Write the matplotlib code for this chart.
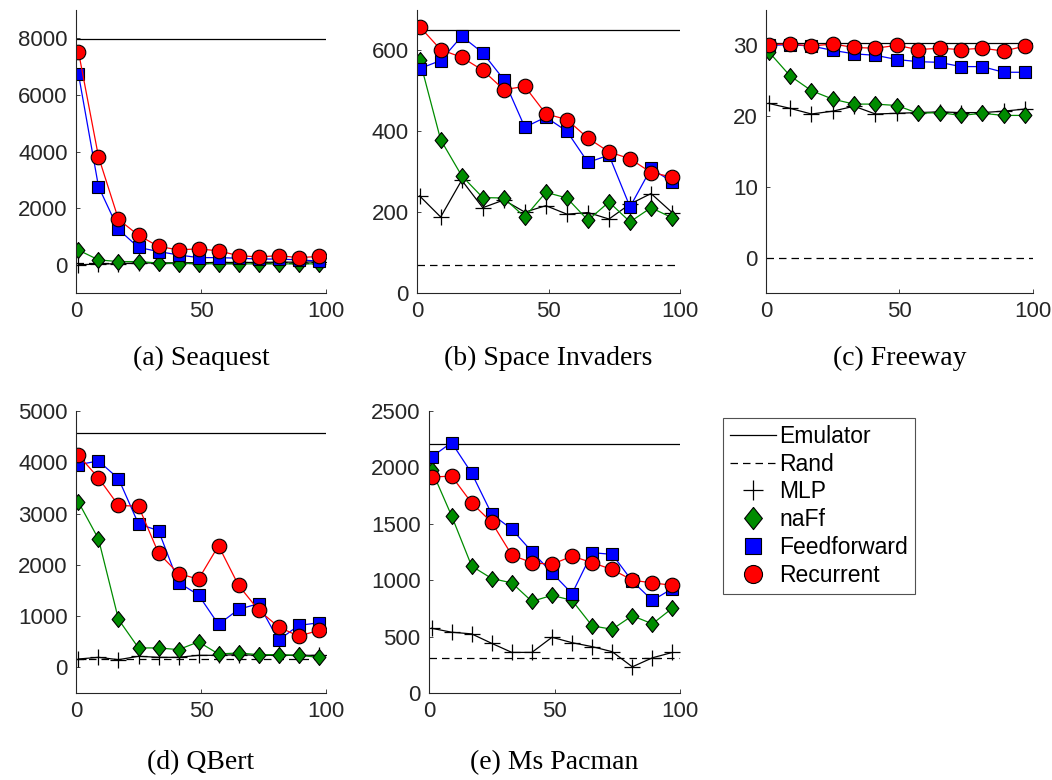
import matplotlib.pyplot as plt
from matplotlib.lines import Line2D

# x positions of the evaluation points (shared by all games)
steps = [1, 9, 17, 25, 33, 41, 49, 57, 65, 73, 81, 89, 97]

series_names = ["MLP", "naFf", "Feedforward", "Recurrent"]

seaquest_emulator = 7990
seaquest_rand = 68
seaquest_mlp = [0, 20, 40, 60, 60, 70, 70, 80, 80, 80, 90, 90, 100]
seaquest_naff = [515, 170, 110, 110, 60, 40, 40, 30, 30, 30, 30, 30, 30]
seaquest_ff = [6730, 2760, 1245, 610, 465, 345, 250, 250, 230, 200, 200, 170, 130]
seaquest_rec = [7520, 3815, 1600, 1040, 645, 525, 560, 490, 320, 275, 320, 250, 290]

invaders_emulator = 651
invaders_rand = 69
invaders_mlp = [240, 188, 279, 211, 230, 200, 216, 195, 199, 183, 220, 246, 199]
invaders_naff = [577, 379, 290, 236, 235, 188, 249, 235, 180, 225, 176, 211, 186]
invaders_ff = [555, 575, 635, 594, 528, 410, 435, 400, 323, 341, 213, 308, 275]
invaders_rec = [659, 602, 583, 551, 503, 511, 443, 429, 383, 349, 332, 298, 287]

freeway_emulator = 30.3
freeway_rand = 0
freeway_mlp = [21.8, 21.1, 20.3, 20.7, 21.4, 20.3, 20.4, 20.5, 20.6, 20.5, 20.5, 20.7, 21.0]
freeway_naff = [29.1, 25.7, 23.6, 22.4, 21.7, 21.7, 21.5, 20.4, 20.5, 20.1, 20.4, 20.1, 20.1]
freeway_ff = [30.0, 30.1, 29.9, 29.3, 28.8, 28.6, 28.0, 27.7, 27.6, 27.0, 27.0, 26.2, 26.2]
freeway_rec = [30.1, 30.2, 29.9, 30.2, 29.7, 29.6, 30.0, 29.4, 29.6, 29.4, 29.6, 29.2, 29.9]

qbert_emulator = 4580
qbert_rand = 164
qbert_mlp = [163, 196, 150, 216, 196, 196, 235, 235, 248, 235, 235, 235, 235]
qbert_naff = [3222, 2503, 935, 379, 379, 346, 497, 261, 281, 248, 248, 235, 196]
qbert_ff = [3954, 4026, 3680, 2797, 2667, 1654, 1412, 837, 1131, 1242, 529, 817, 869]
qbert_rec = [4137, 3693, 3157, 3144, 2229, 1830, 1719, 2373, 1601, 1118, 791, 608, 719]

pacman_emulator = 2205
pacman_rand = 312
pacman_mlp = [574, 539, 524, 440, 360, 360, 494, 446, 411, 366, 232, 312, 360]
pacman_naff = [1979, 1571, 1125, 1015, 976, 812, 866, 821, 595, 565, 685, 613, 753]
pacman_ff = [2092, 2220, 1949, 1586, 1452, 1253, 1065, 881, 1244, 1229, 991, 821, 926]
pacman_rec = [1914, 1923, 1685, 1512, 1223, 1155, 1140, 1214, 1155, 1095, 1000, 976, 955]

GREEN = (0.0, 0.55, 0.0)
AXIS = "#262626"
DASH = (0, (6, 4))
# a diamond a bit wider than matplotlib's thin "d"
DIAMOND = [(0, 1), (0.8, 0), (0, -1), (-0.8, 0), (0, 1)]

W, H = 1052, 780


def box(left, right, top, bottom):
    return [left / W, 1 - bottom / H, (right - left) / W, (bottom - top) / H]


def draw_game(ax, emulator, rand, mlp, naff, ff, rec, ylim, yticks, caption, cap_y):
    ax.axhline(emulator, color="black", lw=0.9)
    ax.axhline(rand, color="black", lw=0.9, ls=DASH)
    ax.plot(steps, mlp, color="black", lw=0.9, marker="+", ms=12, mew=0.9)
    ax.plot(steps, naff, color=GREEN, lw=0.9, marker=DIAMOND, ms=11.5,
            mfc=GREEN, mec="black", mew=0.8)
    ax.plot(steps, ff, color="blue", lw=0.9, marker="s", ms=8.6,
            mfc="blue", mec="black", mew=0.8)
    ax.plot(steps, rec, color="red", lw=0.9, marker="o", ms=10.5,
            mfc="red", mec="black", mew=0.8)
    ax.set_xlim(0, 100)
    ax.set_ylim(*ylim)
    ax.set_xticks([0, 50, 100])
    ax.set_yticks(yticks)
    for side in ("top", "right"):
        ax.spines[side].set_visible(False)
    for side in ("left", "bottom"):
        ax.spines[side].set_color(AXIS)
        ax.spines[side].set_linewidth(0.8)
    ax.tick_params(direction="in", length=3, width=0.6, colors=AXIS,
                   labelsize=16, pad=6)
    ax.text(0.5, cap_y, caption, transform=ax.transAxes, ha="center",
            va="center", fontsize=20, family="Liberation Serif")


plt.rcParams["font.family"] = ["Liberation Sans", "DejaVu Sans"]

fig = plt.figure(figsize=(W / 100, H / 100), dpi=100)

top_cap = -(358 - 293) / 283
bot_cap = -(763 - 693) / 282

ax_a = fig.add_axes(box(76, 326, 10, 293))
draw_game(ax_a, seaquest_emulator, seaquest_rand, seaquest_mlp, seaquest_naff,
          seaquest_ff, seaquest_rec, (-1000, 9000), [0, 2000, 4000, 6000, 8000],
          "(a) Seaquest", top_cap)

ax_b = fig.add_axes(box(417, 680, 10, 293))
draw_game(ax_b, invaders_emulator, invaders_rand, invaders_mlp, invaders_naff,
          invaders_ff, invaders_rec, (0, 700), [0, 200, 400, 600],
          "(b) Space Invaders", top_cap)

ax_c = fig.add_axes(box(766, 1033, 10, 293))
draw_game(ax_c, freeway_emulator, freeway_rand, freeway_mlp, freeway_naff,
          freeway_ff, freeway_rec, (-5, 35), [0, 10, 20, 30],
          "(c) Freeway", top_cap)

ax_d = fig.add_axes(box(76, 326, 411, 693))
draw_game(ax_d, qbert_emulator, qbert_rand, qbert_mlp, qbert_naff,
          qbert_ff, qbert_rec, (-500, 5000), [0, 1000, 2000, 3000, 4000, 5000],
          "(d) QBert", bot_cap)

ax_e = fig.add_axes(box(429, 680, 411, 693))
draw_game(ax_e, pacman_emulator, pacman_rand, pacman_mlp, pacman_naff,
          pacman_ff, pacman_rec, (0, 2500), [0, 500, 1000, 1500, 2000, 2500],
          "(e) Ms Pacman", bot_cap)

handles = [
    Line2D([], [], color="black", lw=0.9),
    Line2D([], [], color="black", lw=0.9, ls=DASH),
    Line2D([], [], color="black", ls="none", marker="+", ms=15, mew=0.9),
    Line2D([], [], ls="none", marker=DIAMOND, ms=16, mfc=GREEN, mec="black", mew=0.8),
    Line2D([], [], ls="none", marker="s", ms=11.5, mfc="blue", mec="black", mew=0.8),
    Line2D([], [], ls="none", marker="o", ms=13, mfc="red", mec="black", mew=0.8),
]
labels = ["Emulator", "Rand"] + series_names
leg = fig.legend(handles, labels, loc="upper left",
                 bbox_to_anchor=(723 / W, 1 - 418 / H), fontsize=16.5,
                 frameon=True, fancybox=False, handlelength=2.0,
                 handletextpad=0.15, labelspacing=0.21, borderpad=0.3,
                 borderaxespad=0)
leg.get_frame().set_edgecolor(AXIS)
leg.get_frame().set_linewidth(0.8)

fig.savefig("out.png", dpi=100)
